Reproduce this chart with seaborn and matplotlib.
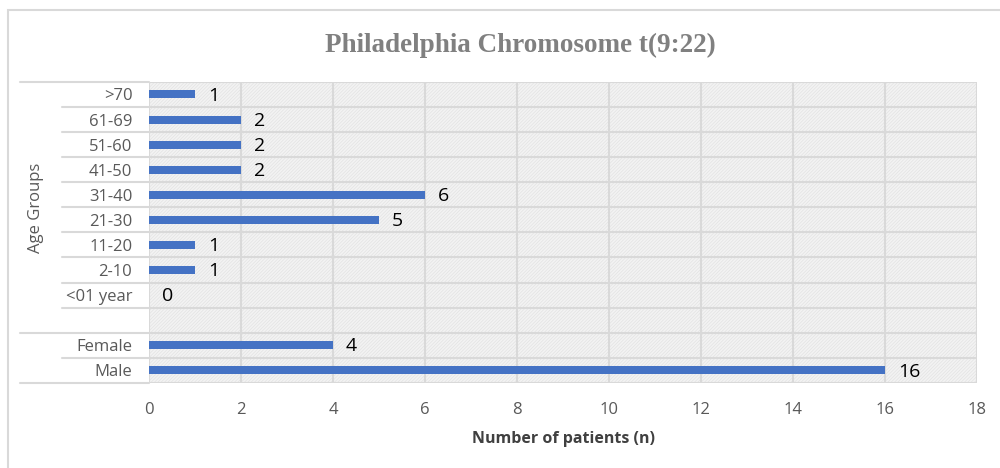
import numpy as np
import pandas as pd
import matplotlib.pyplot as plt
import seaborn as sns
from matplotlib.patches import Rectangle
from matplotlib.transforms import blended_transform_factory

# categories top to bottom, blank row separates age groups from gender
categories = ['>70', '61-69', '51-60', '41-50', '31-40', '21-30', '11-20',
              '2-10', '<01 year', ' ', 'Female', 'Male']
patients = [1, 2, 2, 2, 6, 5, 1, 1, 0, np.nan, 4, 16]
x_ticks = [0, 2, 4, 6, 8, 10, 12, 14, 16, 18]

df = pd.DataFrame({'group': categories, 'n': patients})

sns.set_theme(style='white')
plt.rcParams['font.family'] = ['Open Sans', 'DejaVu Sans']
plt.rcParams['hatch.linewidth'] = 0.5

fig = plt.figure(figsize=(10, 4.68), dpi=100)
ax = fig.add_axes([0.149, 0.182, 0.828, 0.643])

# outer chart border
fig.patches.append(Rectangle((0.008, -0.02), 1.02, 1.0 - 0.021 + 0.02,
                             transform=fig.transFigure, fill=False,
                             edgecolor='#d9d9d9', linewidth=1.5, zorder=0))

# hatched plot area
ax.set_facecolor('#f3f3f3')
ax.add_patch(Rectangle((0, 0), 1, 1, transform=ax.transAxes, facecolor='none',
                       edgecolor='#e2e2e2', hatch='//////////', linewidth=0,
                       zorder=0))

sns.barplot(data=df, x='n', y='group', order=categories, orient='h',
            color='#4472c4', saturation=1, width=0.32, linewidth=0,
            ax=ax, zorder=3)

grid_c = '#d9d9d9'
ax.set_xlim(0, 18)
ax.set_ylim(len(categories) - 0.5, -0.5)
ax.set_xticks(x_ticks)
for x in x_ticks:
    ax.axvline(x, color=grid_c, lw=1.5, zorder=1)
for y in np.arange(-0.5, len(categories), 1.0):
    ax.axhline(y, color=grid_c, lw=1.5, zorder=1)

# category separators extend into the label area
trans = blended_transform_factory(ax.transAxes, ax.transData)
for y in np.arange(-0.5, len(categories), 1.0):
    x0 = -0.156 if y in (-0.5, 9.5, 11.5) else -0.105
    ax.plot([x0, 0], [y, y], color=grid_c, lw=1.5, transform=trans,
            clip_on=False, zorder=1)

for s in ax.spines.values():
    s.set_visible(False)

# data labels
for i, v in enumerate(patients):
    if np.isnan(v):
        continue
    ax.text(v + 0.28, i + 0.05, f'{int(v)}', va='center', ha='left',
            fontsize=14, color='#000000', zorder=4)

ax.tick_params(axis='both', length=0, colors='#595959', labelsize=12)
ax.tick_params(axis='y', pad=12)
ax.tick_params(axis='x', pad=14)
ax.set_ylabel('')
ax.set_xlabel('Number of patients (n)', fontsize=11.5, fontweight='bold',
              color='#404040', labelpad=9)

fig.text(0.036, 0.556, 'Age Groups', rotation=90, ha='center', va='center',
         fontsize=12, color='#595959')
fig.text(0.52, 0.903, 'Philadelphia Chromosome t(9:22)', ha='center',
         va='center', fontsize=19.5, fontweight='bold', color='#808080',
         family=['Liberation Serif', 'DejaVu Serif'])

fig.savefig('out.png', dpi=100)
